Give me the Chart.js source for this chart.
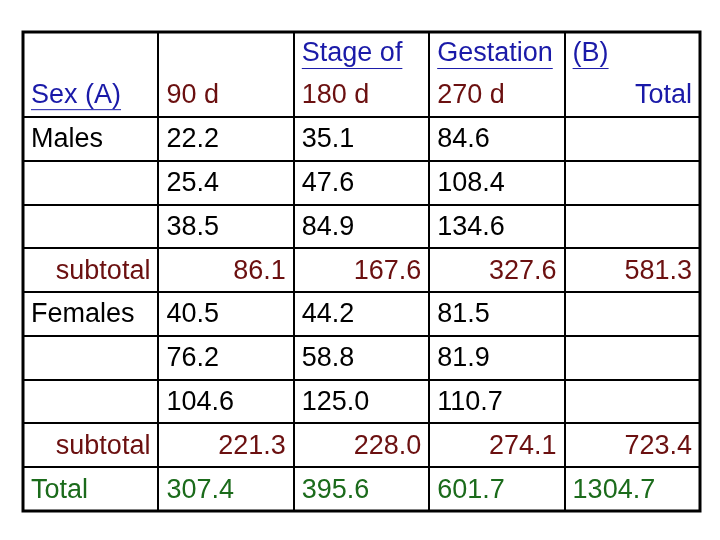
<!DOCTYPE html>
<html>
<head>
<meta charset="utf-8">
<script src="https://cdn.jsdelivr.net/npm/chart.js@4/dist/chart.umd.min.js"></script>
<style>
  html,body{margin:0;padding:0;background:#fff;}
  #wrap{width:720px;height:540px;}
</style>
</head>
<body>
<div id="wrap"><canvas id="tbl" width="720" height="540"></canvas></div>
<script>
// table values, one array per column
const rowLabels = ['Males', '', '', 'subtotal', 'Females', '', '', 'subtotal', 'Total'];
const rowKinds  = ['data', 'data', 'data', 'sub', 'data', 'data', 'data', 'sub', 'total'];
const stage90   = [22.2, 25.4, 38.5, 86.1, 40.5, 76.2, 104.6, 221.3, 307.4];
const stage180  = [35.1, 47.6, 84.9, 167.6, 44.2, 58.8, 125.0, 228.0, 395.6];
const stage270  = [84.6, 108.4, 134.6, 327.6, 81.5, 81.9, 110.7, 274.1, 601.7];
const totalCol  = [null, null, null, 581.3, null, null, null, 723.4, 1304.7];
const headTop   = ['', '', 'Stage of', 'Gestation', '(B)'];
const headBottom = ['Sex (A)', '90 d', '180 d', '270 d', 'Total'];

const HEAD = 1.94; // header height in row units
const NROWS = rowLabels.length;
const colors = { data: '#000', sub: '#6b1010', total: '#1b6b1b', link: '#1a1aa8', blue: '#1a1aa8', head: '#6b1010' };

// one point per cell, at the cell centre
const cells = [];
const cols = [rowLabels, stage90, stage180, stage270, totalCol];
cols.forEach((col, c) => col.forEach((v, r) => {
  if (v === null || v === '') return;
  const kind = rowKinds[r];
  const txt = typeof v === 'number' ? v.toFixed(1) : v;
  cells.push({ x: c + 0.5, y: HEAD + r + 0.5, txt, kind, col: c });
}));
headTop.forEach((t, c) => { if (t) cells.push({ x: c + 0.5, y: 0.48, txt: t, kind: 'link', col: c }); });
headBottom.forEach((t, c) => cells.push({ x: c + 0.5, y: 1.42, txt: t, kind: c === 0 ? 'link' : (c === 4 ? 'blue' : 'head'), col: c, right: c === 4 }));

const tablePlugin = {
  id: 'tablePlugin',
  afterDraw(chart) {
    const ctx = chart.ctx, xs = chart.scales.x, ys = chart.scales.y;
    ctx.save();
    ctx.strokeStyle = '#000';
    // inner lines
    ctx.lineWidth = 2;
    for (let c = 1; c < 5; c++) {
      const px = Math.round(xs.getPixelForValue(c));
      ctx.beginPath(); ctx.moveTo(px, ys.getPixelForValue(0)); ctx.lineTo(px, ys.getPixelForValue(HEAD + NROWS)); ctx.stroke();
    }
    for (let r = 0; r < NROWS; r++) {
      const py = Math.round(ys.getPixelForValue(HEAD + r));
      ctx.beginPath(); ctx.moveTo(xs.getPixelForValue(0), py); ctx.lineTo(xs.getPixelForValue(5), py); ctx.stroke();
    }
    // outer frame
    ctx.lineWidth = 3;
    const l = xs.getPixelForValue(0), rgt = xs.getPixelForValue(5);
    const t = ys.getPixelForValue(0), b = ys.getPixelForValue(HEAD + NROWS);
    ctx.strokeRect(l, t, rgt - l, b - t);

    // texts
    ctx.font = '27px "Liberation Sans", Arial, sans-serif';
    ctx.textBaseline = 'middle';
    const pad = 8;
    cells.forEach(cell => {
      const cx = xs.getPixelForValue(cell.x), cy = ys.getPixelForValue(cell.y) + 1;
      const half = (xs.getPixelForValue(1) - xs.getPixelForValue(0)) / 2;
      const alignRight = cell.right || cell.kind === 'sub';
      ctx.fillStyle = colors[cell.kind];
      const w = ctx.measureText(cell.txt).width;
      const x0 = alignRight ? cx + half - pad - w : cx - half + pad;
      ctx.fillText(cell.txt, x0, cy);
      if (cell.kind === 'link') {
        ctx.strokeStyle = colors.link; ctx.lineWidth = 1;
        ctx.beginPath(); ctx.moveTo(x0, cy + 14.5); ctx.lineTo(x0 + w, cy + 14.5); ctx.stroke();
      }
    });
    ctx.restore();
  }
};

new Chart(document.getElementById('tbl'), {
  type: 'scatter',
  data: { datasets: [{ data: cells.map(c => ({ x: c.x, y: c.y })), pointRadius: 0, pointHoverRadius: 0 }] },
  options: {
    responsive: false,
    animation: false,
    events: [],
    layout: { padding: { left: 23, right: 20, top: 32, bottom: 29 } },
    plugins: { legend: { display: false }, tooltip: { enabled: false } },
    scales: {
      x: { type: 'linear', min: 0, max: 5, display: false },
      y: { type: 'linear', min: 0, max: HEAD + NROWS, reverse: true, display: false }
    }
  },
  plugins: [tablePlugin]
});
</script>
</body>
</html>
